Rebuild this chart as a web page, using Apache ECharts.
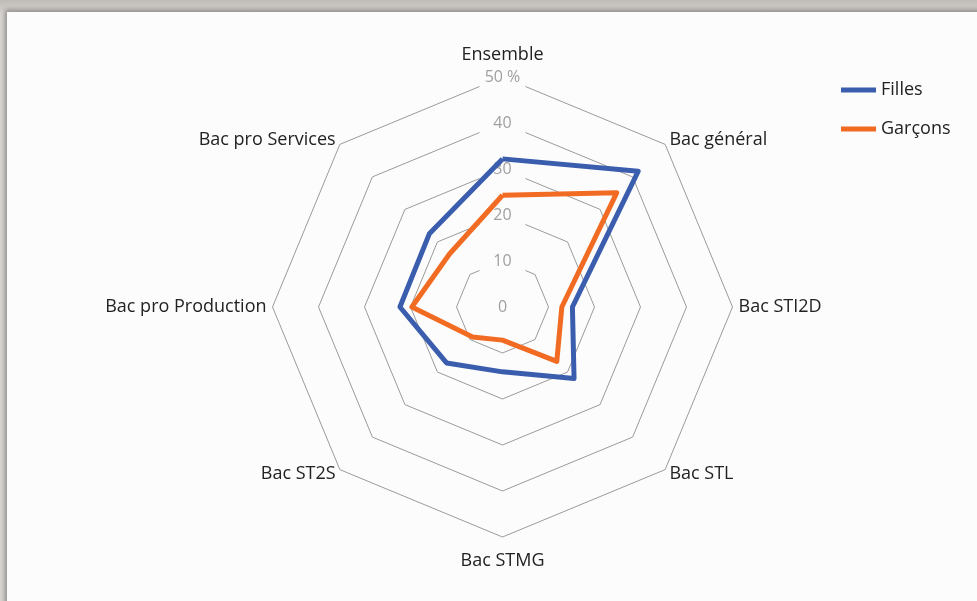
<!DOCTYPE html>
<html>
<head>
<meta charset="utf-8">
<script src="https://cdn.jsdelivr.net/npm/echarts@6/dist/echarts.min.js"></script>
<style>
  html, body { margin: 0; padding: 0; width: 977px; height: 601px; overflow: hidden;
    background: linear-gradient(#bfbbb7, #d8d5d2 14px, #d8d5d2); }
  #frame { position: absolute; left: 7px; top: 12px; width: 980px; height: 600px;
    background: #fcfcfc; box-shadow: -2px -2px 5px rgba(0,0,0,0.35); }
  #main { position: absolute; left: 0; top: 0; width: 977px; height: 601px; }
</style>
</head>
<body>
<div id="frame"></div>
<div id="main"></div>
<script>
// Categories in clockwise visual order starting at top
const categories = ["Ensemble", "Bac général", "Bac STI2D", "Bac STL", "Bac STMG", "Bac ST2S", "Bac pro Production", "Bac pro Services"];
const filles  = [32.2, 41.7, 15.2, 22.0, 14.1, 17.2, 22.3, 22.5];
const garcons = [24.3, 35.1, 12.9, 16.7, 7.2, 9.2, 19.7, 16.3];
const seriesNames = ["Filles", "Garçons"];
const axisMax = 50;

// ECharts radar places indicators counter-clockwise: reorder to keep clockwise visual order
const order = [0, 7, 6, 5, 4, 3, 2, 1];
const reorder = arr => order.map(i => arr[i]);

const indicator = order.map((i, k) => {
  const ind = { name: categories[i], min: 0, max: axisMax };
  if (k === 0) { ind.axisLabel = { show: true }; ind.nameGap = 4; }
  if (i === 4) ind.nameGap = 15;
  return ind;
});

const FONT = 'Open Sans';
const chart = echarts.init(document.getElementById('main'));
chart.setOption({
  animation: false,
  legend: {
    orient: 'vertical',
    left: 836,
    top: 76,
    itemGap: 21,
    itemWidth: 35,
    itemHeight: 5,
    icon: 'rect',
    textStyle: { fontFamily: FONT, fontSize: 18, color: '#222' },
    data: seriesNames
  },
  radar: {
    center: [502.5, 307],
    radius: 230,
    startAngle: 90,
    splitNumber: 5,
    shape: 'polygon',
    indicator: indicator,
    nameGap: 6,
    axisName: { color: '#222', fontFamily: FONT, fontSize: 18 },
    axisLine: { show: false },
    axisTick: { show: false },
    splitArea: { show: false },
    splitLine: { lineStyle: { color: '#9a9a9a', width: 1 } },
    axisLabel: {
      show: false,
      color: '#a0a0a0',
      fontFamily: FONT,
      fontSize: 16,
      margin: 0,
      align: 'center',
      verticalAlign: 'middle',
      width: 46,
      height: 22,
      lineHeight: 22,
      padding: [5, 0, 0, 0],
      backgroundColor: '#fcfcfc',
      formatter: v => v === axisMax ? v + ' %' : String(v)
    }
  },
  series: [{
    type: 'radar',
    symbol: 'none',
    data: [
      { name: seriesNames[0], value: reorder(filles),
        lineStyle: { color: '#3a5dae', width: 5 }, itemStyle: { color: '#3a5dae' } },
      { name: seriesNames[1], value: reorder(garcons),
        lineStyle: { color: '#f26b23', width: 5 }, itemStyle: { color: '#f26b23' } }
    ]
  }]
});
</script>
</body>
</html>
